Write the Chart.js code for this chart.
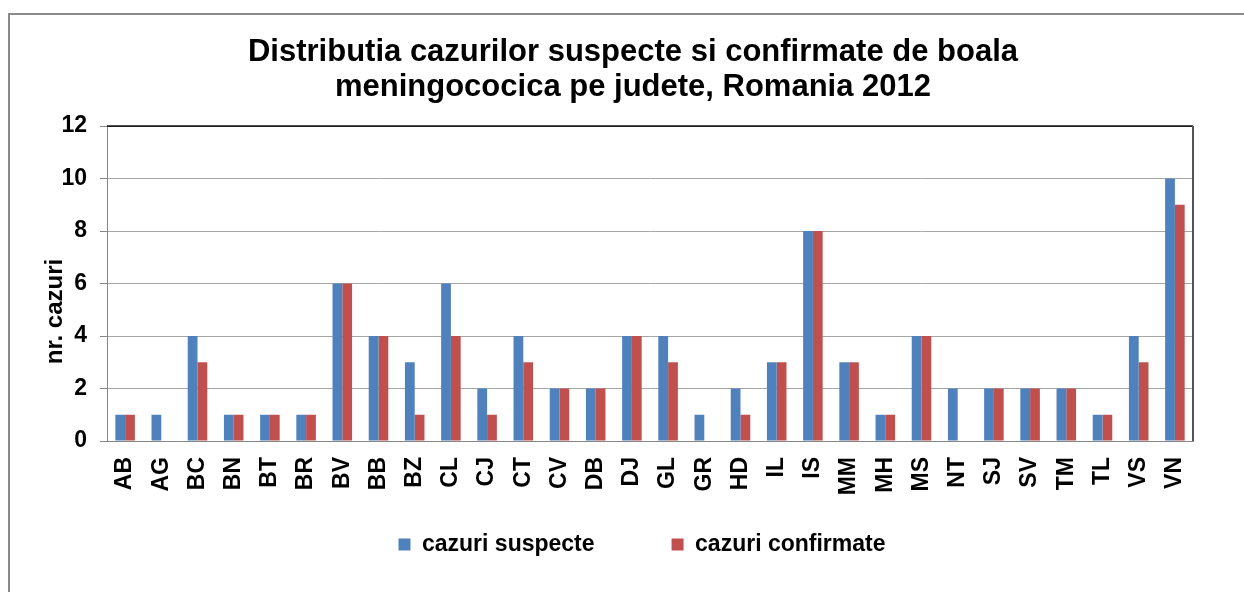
<!DOCTYPE html>
<html>
<head>
<meta charset="utf-8">
<script src="https://cdn.jsdelivr.net/npm/chart.js@4.4.1/dist/chart.umd.min.js"></script>
<style>
  html, body { margin: 0; padding: 0; background: #ffffff; overflow: hidden; }
  #wrap { position: relative; width: 1244px; height: 592px; overflow: hidden; background: #fff; }
  #frame { position: absolute; left: 8px; top: 13px; width: 1300px; height: 700px; border: 2px solid #8a8a8a; box-sizing: border-box; }
  #c { position: absolute; left: 0; top: 0; }
</style>
</head>
<body>
<div id="wrap">
  <div id="frame"></div>
  <canvas id="c" width="1244" height="592"></canvas>
</div>
<script>
const categories = ['AB','AG','BC','BN','BT','BR','BV','BB','BZ','CL','CJ','CT','CV','DB','DJ','GL','GR','HD','IL','IS','MM','MH','MS','NT','SJ','SV','TM','TL','VS','VN'];
const cazuriSuspecte = [1,1,4,1,1,1,6,4,3,6,2,4,2,2,4,4,1,2,3,8,3,1,4,2,2,2,2,1,4,10];
const cazuriConfirmate = [1,0,3,1,1,1,6,4,1,4,1,3,2,2,4,3,0,1,3,8,3,1,4,0,2,2,2,1,3,9];
const seriesNames = ['cazuri suspecte', 'cazuri confirmate'];
const titleLines = ['Distributia cazurilor suspecte si confirmate de boala', 'meningococica pe judete, Romania 2012'];
const yAxisTitle = 'nr. cazuri';
const yTicksMin = 0, yTicksMax = 12, yTicksStep = 2;

const FONT = "'Liberation Sans', Arial, sans-serif";
Chart.defaults.font.family = FONT;
Chart.defaults.color = '#000';

// layout tweaks: centre title on the whole frame, pull legend up under the labels
const layoutTweaks = {
  id: 'layoutTweaks',
  afterLayout(chart) {
    const t = chart.titleBlock;
    if (t) { t.left = 22; t.right = chart.width; }
    const lg = chart.legend;
    if (lg) {
      const dy = (chart.chartArea.bottom + 15) - lg.top;
      lg.top += dy; lg.bottom += dy;
      lg.left -= 8; lg.right -= 8;
    }
  }
};

const plotFrame = {
  id: 'plotFrame',
  afterDraw(chart) {
    const {ctx, chartArea: a} = chart;
    ctx.save();
    ctx.strokeStyle = '#1a1a1a';
    ctx.lineWidth = 1.5;
    ctx.beginPath();
    ctx.moveTo(a.left, a.top);
    ctx.lineTo(a.right, a.top);
    ctx.stroke();
    ctx.strokeStyle = '#555555';
    ctx.lineWidth = 2;
    ctx.beginPath();
    ctx.moveTo(a.right, a.top);
    ctx.lineTo(a.right, a.bottom);
    ctx.stroke();
    // y axis title
    ctx.fillStyle = '#000';
    ctx.font = "bold 24px " + FONT;
    ctx.textAlign = 'center';
    ctx.textBaseline = 'middle';
    ctx.translate(55, (a.top + a.bottom) / 2 + 28);
    ctx.rotate(-Math.PI / 2);
    ctx.fillText(yAxisTitle, 0, 0);
    ctx.restore();
  }
};

new Chart(document.getElementById('c'), {
  type: 'bar',
  data: {
    labels: categories,
    datasets: [
      { label: seriesNames[0], data: cazuriSuspecte, backgroundColor: '#4F81BD', borderWidth: 0, categoryPercentage: 0.54, barPercentage: 1 },
      { label: seriesNames[1], data: cazuriConfirmate, backgroundColor: '#C0504D', borderWidth: 0, categoryPercentage: 0.54, barPercentage: 1 }
    ]
  },
  options: {
    responsive: false,
    animation: false,
    layout: { padding: { left: 0, right: 51, top: 0, bottom: -19 } },
    plugins: {
      title: {
        display: true,
        text: titleLines,
        color: '#000',
        font: { size: 31, weight: 'bold', lineHeight: 1.13 },
        padding: { top: 35, bottom: 21 }
      },
      legend: {
        position: 'bottom',
        fullSize: false,
        labels: {
          boxWidth: 12,
          boxHeight: 12,
          padding: 77,
          color: '#000',
          font: { size: 23, weight: 'bold' }
        }
      },
      tooltip: { enabled: false }
    },
    scales: {
      x: {
        grid: { display: false, drawTicks: false },
        border: { display: true, color: '#868686', width: 1 },
        ticks: {
          minRotation: 90,
          maxRotation: 90,
          autoSkip: false,
          padding: 16,
          color: '#000',
          font: { size: 23, weight: 'bold' }
        },
        afterFit(scale) { scale.height = 60; }
      },
      y: {
        min: yTicksMin,
        max: yTicksMax,
        grid: {
          color: (c) => (c.tick && c.tick.value === yTicksMax) ? '#1a1a1a' : '#a6a6a6',
          tickColor: '#868686',
          tickLength: 7,
          drawTicks: true
        },
        border: { display: true, color: '#868686', width: 1 },
        ticks: {
          stepSize: yTicksStep,
          padding: 13,
          color: '#000',
          font: { size: 23, weight: 'bold' }
        },
        afterFit(scale) { scale.width = 107; }
      }
    }
  },
  plugins: [layoutTweaks, plotFrame]
});
</script>
</body>
</html>
